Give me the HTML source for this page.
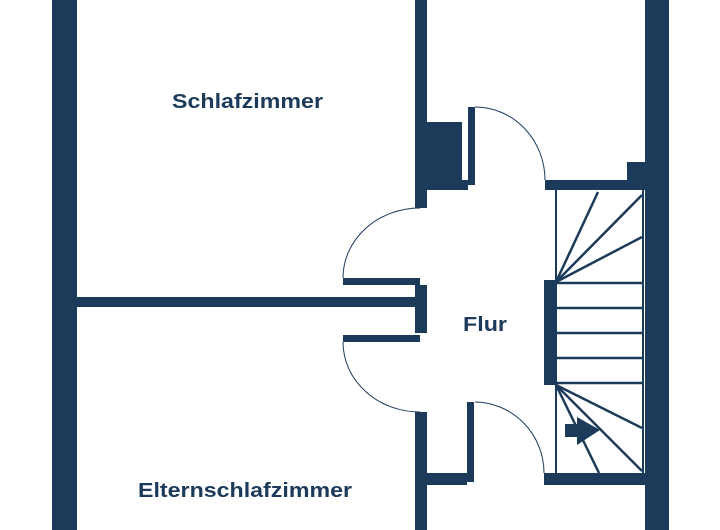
<!DOCTYPE html>
<html><head><meta charset="utf-8"><style>
html,body{margin:0;padding:0;background:#fff;}
svg{display:block;}
text{font-family:"Liberation Sans",sans-serif;font-weight:bold;fill:#1c3a5a;font-size:20px;}
</style></head><body>
<svg width="720" height="530" viewBox="0 0 720 530" xmlns="http://www.w3.org/2000/svg">
<g fill="#1c3a5a">
<!-- outer walls -->
<rect x="52" y="0" width="25" height="530"/>
<rect x="645" y="0" width="24" height="530"/>
<!-- central wall upper -->
<rect x="415" y="0" width="12" height="208"/>
<rect x="415" y="122" width="47" height="68"/>
<rect x="462" y="180" width="6" height="10"/>
<rect x="468" y="107" width="7" height="78"/>
<!-- horizontal interior wall -->
<rect x="77" y="297" width="343" height="10"/>
<rect x="343" y="278" width="77" height="7"/>
<rect x="343" y="335" width="77" height="7"/>
<rect x="415" y="285" width="12" height="48"/>
<!-- central wall lower -->
<rect x="415" y="412" width="12" height="118"/>
<rect x="426" y="473" width="41" height="12"/>
<rect x="467" y="402" width="7" height="80"/>
<!-- stair walls -->
<rect x="545" y="180" width="100" height="10"/>
<rect x="627" y="162" width="18" height="28"/>
<rect x="544" y="280" width="12" height="105"/>
<rect x="544" y="473" width="101" height="12"/>
<!-- arrow -->
<rect x="565" y="424" width="15" height="13"/>
<polygon points="577,417 600,430 577,445"/>
</g>
<g fill="none" stroke="#1c3a5a">
<!-- door arcs -->
<path d="M420 208 A77 70 0 0 0 343 278" stroke-width="1"/>
<path d="M343 342 A77 70 0 0 0 420 412" stroke-width="1"/>
<path d="M475 107 A70 73 0 0 1 545 180" stroke-width="1"/>
<path d="M475 402 A70 71 0 0 1 544 473" stroke-width="1"/>
<!-- stair box -->
<line x1="556" y1="190" x2="556" y2="473" stroke-width="2"/>
<line x1="643" y1="190" x2="643" y2="473" stroke-width="2"/>
<g stroke-width="2.5">
<line x1="556" y1="282" x2="598" y2="192"/>
<line x1="556" y1="282" x2="642" y2="195"/>
<line x1="556" y1="282" x2="642" y2="237"/>
<line x1="556" y1="283" x2="643" y2="283"/>
<line x1="556" y1="308" x2="643" y2="308"/>
<line x1="556" y1="333" x2="643" y2="333"/>
<line x1="556" y1="358" x2="643" y2="358"/>
<line x1="556" y1="383" x2="643" y2="383"/>
<line x1="556" y1="385" x2="642" y2="428"/>
<line x1="556" y1="385" x2="642" y2="471"/>
<line x1="556" y1="385" x2="599" y2="473"/>
</g>
</g>
<text x="172" y="108" textLength="151" lengthAdjust="spacingAndGlyphs">Schlafzimmer</text>
<text x="463" y="331" textLength="44" lengthAdjust="spacingAndGlyphs">Flur</text>
<text x="138" y="497" textLength="214" lengthAdjust="spacingAndGlyphs">Elternschlafzimmer</text>
</svg>
</body></html>
